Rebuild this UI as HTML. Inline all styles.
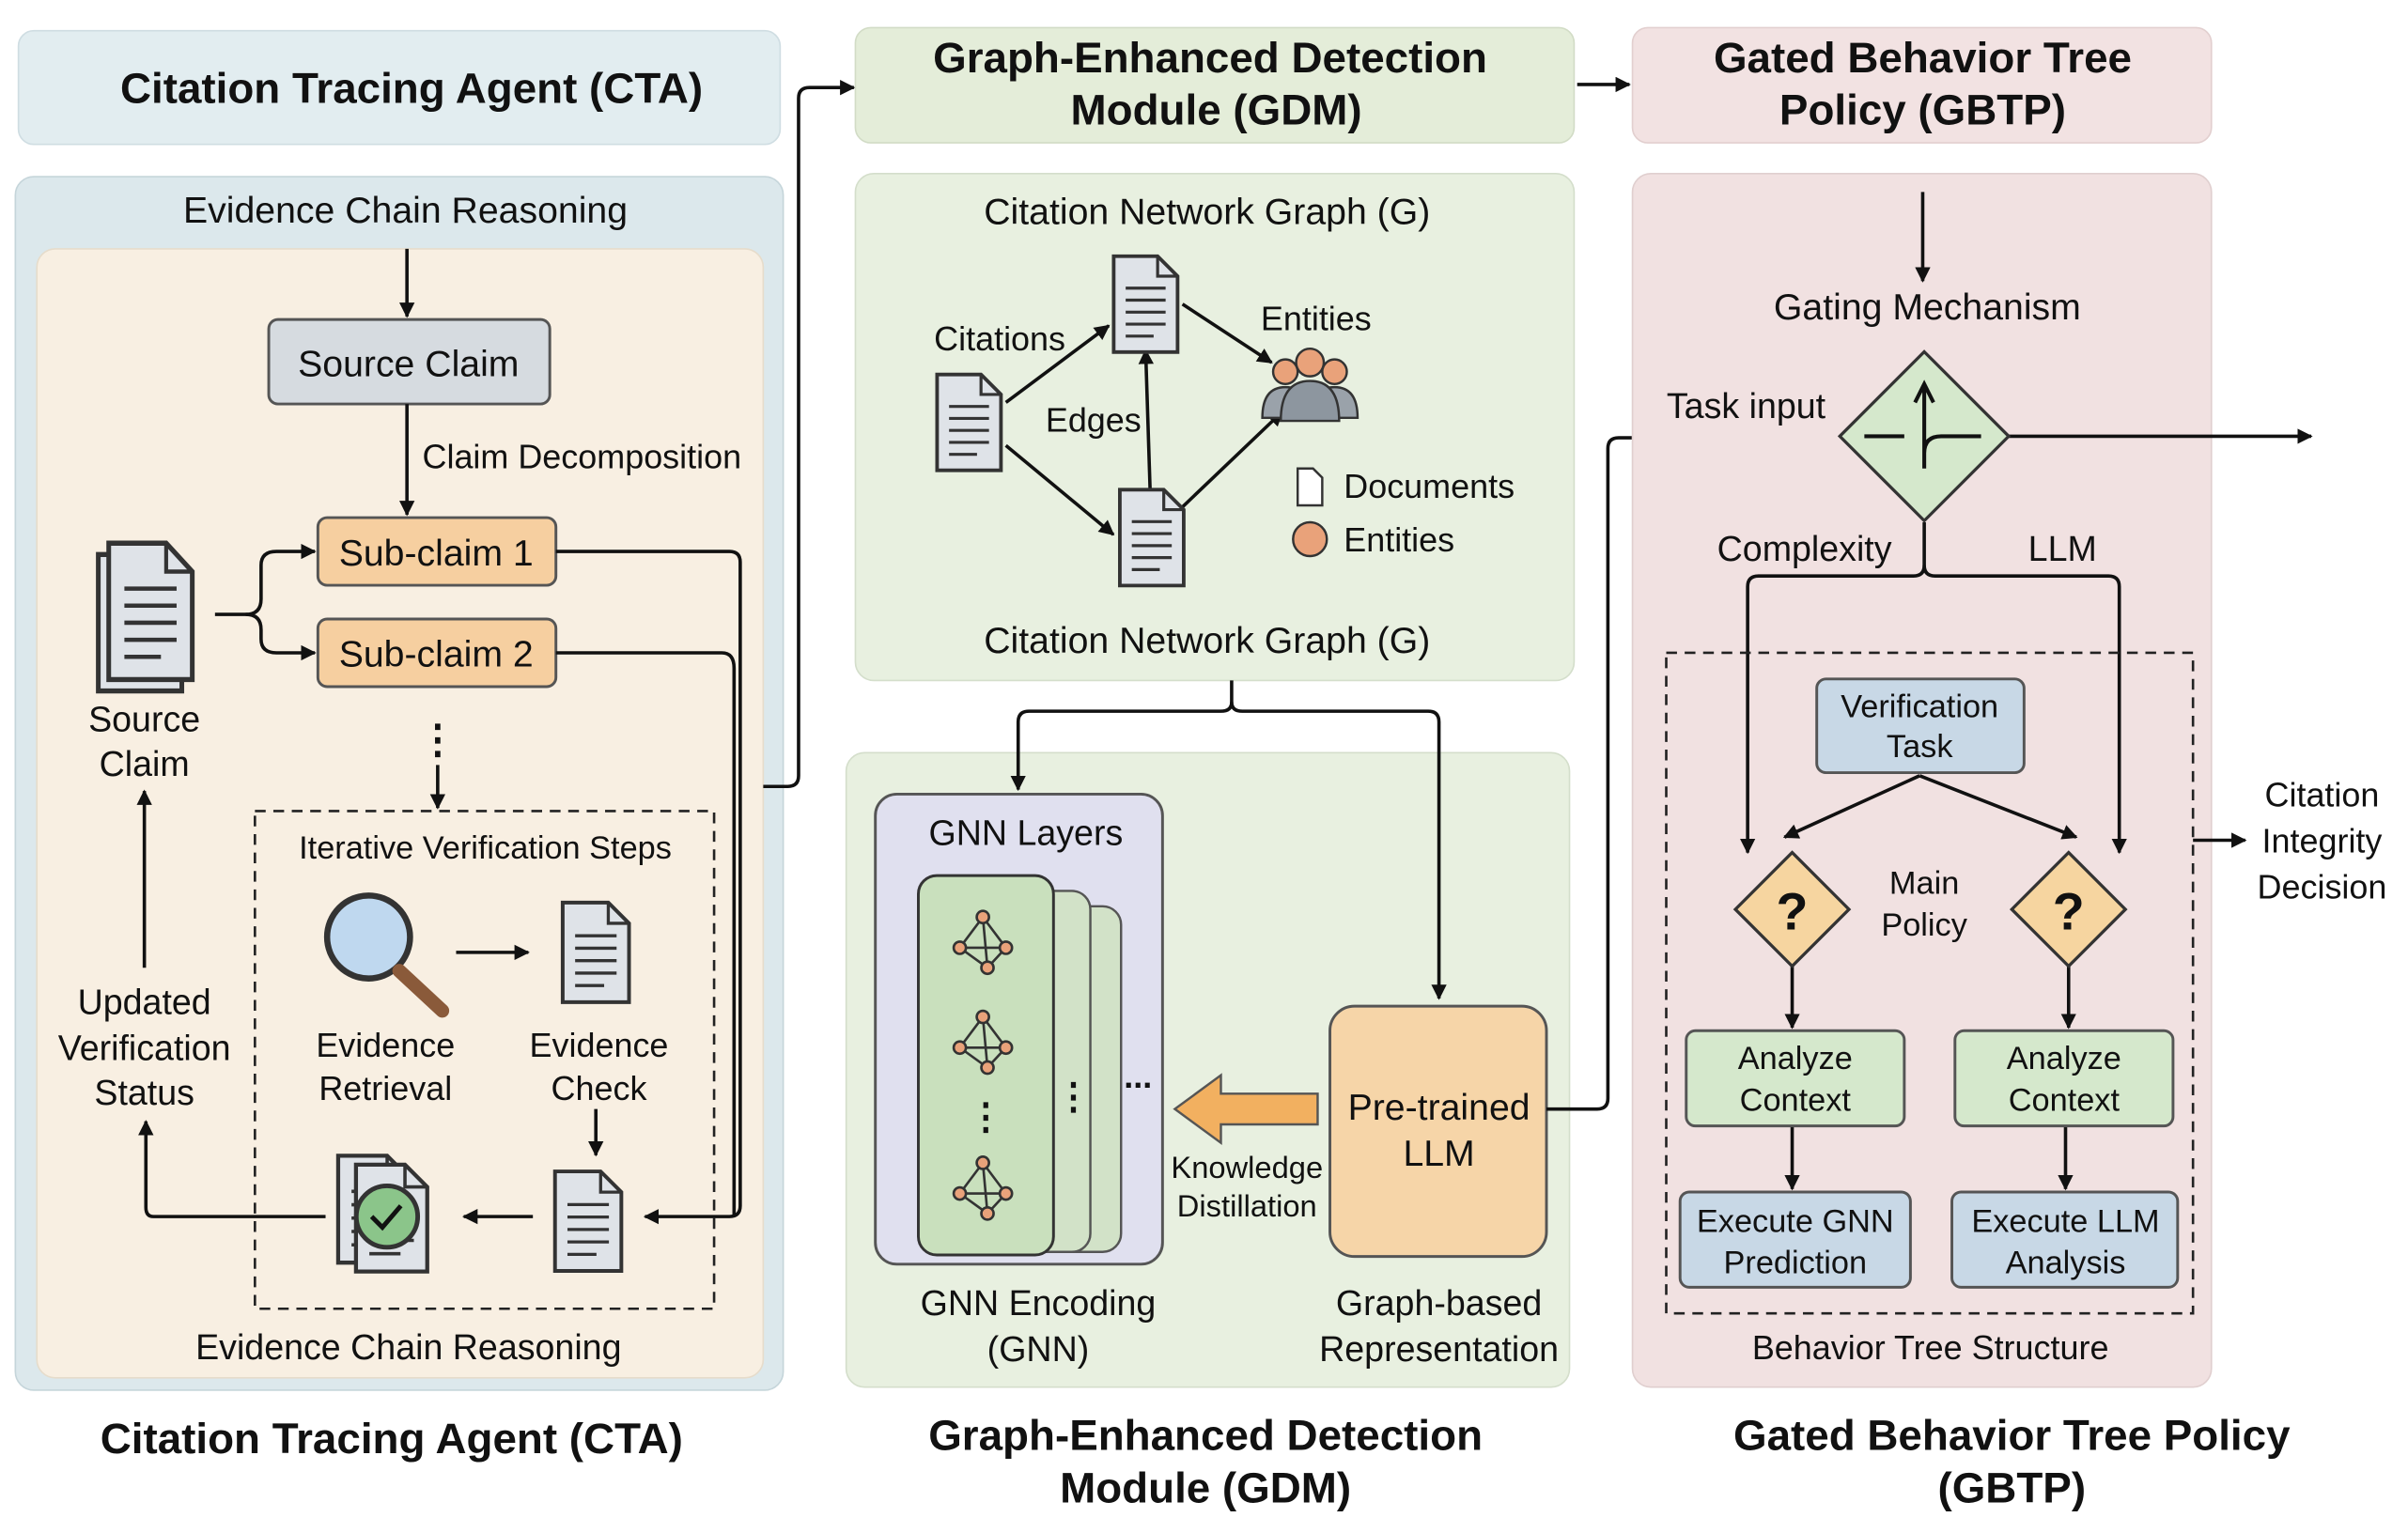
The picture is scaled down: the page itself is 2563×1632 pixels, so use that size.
<!DOCTYPE html>
<html><head><meta charset="utf-8"><style>
html,body{margin:0;padding:0;background:#fff}
svg{display:block}
text{font-family:"Liberation Sans",sans-serif;fill:#111}
.b{font-weight:bold}
</style></head><body>
<svg width="2563" height="1632" viewBox="0 0 1568 998" preserveAspectRatio="none" xmlns="http://www.w3.org/2000/svg">
<defs>
<marker id="a" markerWidth="10" markerHeight="10" refX="9" refY="5" orient="auto" markerUnits="userSpaceOnUse"><path d="M0,0 L10,5 L0,10 Z" fill="#111"/></marker>
<g id="doc"><path d="M-16,-24 h22 l10,10 v38 h-32 Z" fill="#dfe3e8" stroke="#333" stroke-width="1.8"/><path d="M6,-24 v10 h10" fill="none" stroke="#333" stroke-width="1.5"/><path d="M-10,-8 h20 M-10,-2 h20 M-10,4 h20 M-10,10 h20 M-10,16 h14" stroke="#333" stroke-width="1.5"/></g>
</defs>
<!-- LEFT -->
<rect x="12" y="20" width="496" height="74" rx="10" fill="#e2edf0" stroke="#cfdde2"/>
<text x="268" y="67" font-size="28" text-anchor="middle" class="b">Citation Tracing Agent (CTA)</text>
<rect x="10" y="115" width="500" height="790" rx="12" fill="#dce8ec" stroke="#c5d5da"/>
<text x="264" y="145" font-size="24" text-anchor="middle">Evidence Chain Reasoning</text>
<rect x="24" y="162" width="473" height="735" rx="12" fill="#f8efe2" stroke="#e6dccb"/>
<rect x="175" y="208" width="183" height="55" rx="6" fill="#d6dbe0" stroke="#555" stroke-width="1.8"/>
<text x="266" y="245" font-size="24" text-anchor="middle">Source Claim</text>
<text x="275" y="305" font-size="22">Claim Decomposition</text>
<rect x="207" y="337" width="155" height="44" rx="6" fill="#f6cfa0" stroke="#555" stroke-width="1.8"/>
<text x="284" y="368" font-size="24" text-anchor="middle">Sub-claim 1</text>
<rect x="207" y="403" width="155" height="44" rx="6" fill="#f6cfa0" stroke="#555" stroke-width="1.8"/>
<text x="284" y="434" font-size="24" text-anchor="middle">Sub-claim 2</text>
<g transform="translate(98,398) scale(1.7,1.85)"><use href="#doc" x="-4" y="4"/><use href="#doc"/></g>
<text x="94" y="476" font-size="23" text-anchor="middle">Source</text>
<text x="94" y="505" font-size="23" text-anchor="middle">Claim</text>
<text x="285" y="490" font-size="26" text-anchor="middle" class="b">⋮</text>
<rect x="166" y="528" width="299" height="324" fill="none" stroke="#222" stroke-width="1.6" stroke-dasharray="7,5"/>
<text x="316" y="559" font-size="21" text-anchor="middle">Iterative Verification Steps</text>
<circle cx="240" cy="610" r="27" fill="#bfd8ef" stroke="#333" stroke-width="4"/>
<line x1="260" y1="632" x2="288" y2="658" stroke="#8a5a3a" stroke-width="9" stroke-linecap="round"/>
<g transform="translate(388,620) scale(1.35)"><use href="#doc"/></g>
<g transform="translate(383,795) scale(1.35)"><use href="#doc"/></g>
<g transform="translate(255,793) scale(1.45)"><use href="#doc" x="-8" y="-4"/><use href="#doc"/></g>
<circle cx="252" cy="792" r="20" fill="#8bc58a" stroke="#333" stroke-width="3"/>
<path d="M242,792 l7,7 l12,-14" stroke="#111" stroke-width="3" fill="none"/>
<text x="251" y="688" font-size="22" text-anchor="middle">Evidence</text>
<text x="251" y="716" font-size="22" text-anchor="middle">Retrieval</text>
<text x="390" y="688" font-size="22" text-anchor="middle">Evidence</text>
<text x="390" y="716" font-size="22" text-anchor="middle">Check</text>
<text x="94" y="660" font-size="23" text-anchor="middle">Updated</text>
<text x="94" y="690" font-size="23" text-anchor="middle">Verification</text>
<text x="94" y="719" font-size="23" text-anchor="middle">Status</text>
<text x="266" y="885" font-size="23" text-anchor="middle">Evidence Chain Reasoning</text>
<text x="255" y="946" font-size="28" text-anchor="middle" class="b">Citation Tracing Agent (CTA)</text>
<g stroke="#111" stroke-width="2.2" fill="none" marker-end="url(#a)">
<line x1="265" y1="162" x2="265" y2="206"/>
<line x1="265" y1="263" x2="265" y2="335"/>
<path d="M140,400 H160 Q170,400 170,390 V368 Q170,359 180,359 H205"/>
<path d="M160,400 Q170,400 170,410 V416 Q170,425 180,425 H205"/>
<line x1="285" y1="498" x2="285" y2="526"/>
<line x1="297" y1="620" x2="344" y2="620"/>
<line x1="388" y1="722" x2="388" y2="752"/>
<line x1="347" y1="792" x2="302" y2="792"/>
<path d="M212,792 H100 Q95,792 95,786 V730"/>
<line x1="94" y1="630" x2="94" y2="515"/>
<path d="M362,359 H475 Q482,359 482,366 V785 Q482,792 475,792 H420"/>
<path d="M497,512 H513 Q520,512 520,505 V64 Q520,57 527,57 H556"/>
<path d="M1027,55 H1061"/>
</g>
<path d="M362,425 H470 Q478,425 478,435 V792" stroke="#111" stroke-width="2.2" fill="none"/>
<!-- MIDDLE -->
<rect x="557" y="18" width="468" height="75" rx="10" fill="#e4edd9" stroke="#d2dcc6"/>
<text x="788" y="47" font-size="28" text-anchor="middle" class="b">Graph-Enhanced Detection</text>
<text x="792" y="81" font-size="28" text-anchor="middle" class="b">Module (GDM)</text>
<rect x="557" y="113" width="468" height="330" rx="12" fill="#e8f0e0" stroke="#d4decb"/>
<text x="786" y="146" font-size="24" text-anchor="middle">Citation Network Graph (G)</text>
<text x="786" y="425" font-size="24" text-anchor="middle">Citation Network Graph (G)</text>
<g stroke="#111" stroke-width="2.2" fill="none" marker-end="url(#a)">
<line x1="655" y1="262" x2="722" y2="212"/>
<line x1="655" y1="290" x2="725" y2="348"/>
<line x1="749" y1="322" x2="746" y2="228"/>
<line x1="770" y1="198" x2="828" y2="236"/>
<line x1="770" y1="330" x2="835" y2="268"/>
</g>
<g transform="translate(631,275) scale(1.3)"><use href="#doc"/></g>
<g transform="translate(746,198) scale(1.3)"><use href="#doc"/></g>
<g transform="translate(750,350) scale(1.3)"><use href="#doc"/></g>
<g stroke="#333" stroke-width="1.5"><path d="M822,272 q0,-20 15,-20 q15,0 15,20 Z M854,272 q0,-20 15,-20 q15,0 15,20 Z" fill="#9aa2aa"/><circle cx="837" cy="242" r="8" fill="#e9a27a"/><circle cx="869" cy="242" r="8" fill="#e9a27a"/><path d="M834,274 q0,-26 19,-26 q19,0 19,26 Z" fill="#8d969f"/><circle cx="853" cy="236" r="9" fill="#e9a27a"/></g>
<text x="651" y="228" font-size="22" text-anchor="middle">Citations</text>
<text x="712" y="281" font-size="22" text-anchor="middle">Edges</text>
<text x="857" y="215" font-size="22" text-anchor="middle">Entities</text>
<path d="M845,305 h10 l6,6 v18 h-16 Z" fill="#fff" stroke="#333" stroke-width="1.5"/>
<text x="875" y="324" font-size="22">Documents</text>
<circle cx="853" cy="351" r="11" fill="#e9a27a" stroke="#333" stroke-width="1.5"/>
<text x="875" y="359" font-size="22">Entities</text>
<rect x="551" y="490" width="471" height="413" rx="12" fill="#e8f0e0" stroke="#d4decb"/>
<g stroke="#111" stroke-width="2.2" fill="none" marker-end="url(#a)">
<path d="M802,443 V457 Q802,463 795,463 H670 Q663,463 663,470 V514"/>
<path d="M802,457 Q802,463 809,463 H930 Q937,463 937,470 V650"/>
</g>
<rect x="570" y="517" width="187" height="306" rx="14" fill="#e0e0ef" stroke="#555" stroke-width="1.8"/>
<text x="668" y="550" font-size="23" text-anchor="middle">GNN Layers</text>
<rect x="640" y="590" width="90" height="225" rx="12" fill="#d2e2c8" stroke="#555" stroke-width="1.5"/>
<rect x="620" y="580" width="90" height="235" rx="12" fill="#d2e2c8" stroke="#555" stroke-width="1.5"/>
<rect x="598" y="570" width="88" height="247" rx="12" fill="#c9e0bd" stroke="#333" stroke-width="1.8"/>
<g stroke="#333" stroke-width="1.6" fill="#e9a27a">
<g transform="translate(640,612)"><path d="M-15,5 L0,-15 L15,5 L3,18 Z M-15,5 L15,5 M0,-15 L3,18" fill="none"/><circle cx="-15" cy="5" r="4"/><circle cx="0" cy="-15" r="4"/><circle cx="15" cy="5" r="4"/><circle cx="3" cy="18" r="4"/></g>
<g transform="translate(640,677)"><path d="M-15,5 L0,-15 L15,5 L3,18 Z M-15,5 L15,5 M0,-15 L3,18" fill="none"/><circle cx="-15" cy="5" r="4"/><circle cx="0" cy="-15" r="4"/><circle cx="15" cy="5" r="4"/><circle cx="3" cy="18" r="4"/></g>
<g transform="translate(640,772)"><path d="M-15,5 L0,-15 L15,5 L3,18 Z M-15,5 L15,5 M0,-15 L3,18" fill="none"/><circle cx="-15" cy="5" r="4"/><circle cx="0" cy="-15" r="4"/><circle cx="15" cy="5" r="4"/><circle cx="3" cy="18" r="4"/></g>
</g>
<text x="642" y="735" font-size="24" text-anchor="middle" class="b">⋮</text>
<text x="699" y="722" font-size="24" text-anchor="middle" class="b">⋮</text>
<text x="741" y="708" font-size="22" text-anchor="middle" class="b">...</text>
<path d="M858,712 H795 V700 L765,722 L795,744 V732 H858 Z" fill="#f2b060" stroke="#555" stroke-width="1.5"/>
<text x="812" y="767" font-size="20" text-anchor="middle">Knowledge</text>
<text x="812" y="792" font-size="20" text-anchor="middle">Distillation</text>
<rect x="866" y="655" width="141" height="163" rx="16" fill="#f6d5a8" stroke="#555" stroke-width="1.8"/>
<text x="937" y="729" font-size="24" text-anchor="middle">Pre-trained</text>
<text x="937" y="759" font-size="24" text-anchor="middle">LLM</text>
<text x="676" y="856" font-size="23" text-anchor="middle">GNN Encoding</text>
<text x="676" y="886" font-size="23" text-anchor="middle">(GNN)</text>
<text x="937" y="856" font-size="23" text-anchor="middle">Graph-based</text>
<text x="937" y="886" font-size="23" text-anchor="middle">Representation</text>
<text x="785" y="944" font-size="28" text-anchor="middle" class="b">Graph-Enhanced Detection</text>
<text x="785" y="978" font-size="28" text-anchor="middle" class="b">Module (GDM)</text>
<path d="M1007,722 H1040 Q1047,722 1047,715 V292 Q1047,285 1054,285 H1194" stroke="#111" stroke-width="2.2" fill="none" marker-end="url(#a)"/>
<!-- RIGHT -->
<rect x="1063" y="18" width="377" height="75" rx="10" fill="#f2e2e2" stroke="#e2cfcf"/>
<text x="1252" y="47" font-size="28" text-anchor="middle" class="b">Gated Behavior Tree</text>
<text x="1252" y="81" font-size="28" text-anchor="middle" class="b">Policy (GBTP)</text>
<rect x="1063" y="113" width="377" height="790" rx="12" fill="#f1e1e1" stroke="#e0cfcf"/>
<text x="1255" y="208" font-size="24" text-anchor="middle">Gating Mechanism</text>
<text x="1137" y="272" font-size="23" text-anchor="middle">Task input</text>
<text x="1175" y="365" font-size="23" text-anchor="middle">Complexity</text>
<text x="1343" y="365" font-size="23" text-anchor="middle">LLM</text>
<g stroke="#111" stroke-width="2.2" fill="none" marker-end="url(#a)">
<line x1="1252" y1="125" x2="1252" y2="183"/>
<line x1="1308" y1="284" x2="1505" y2="284"/>
<path d="M1253,340 V368 Q1253,375 1246,375 H1145 Q1138,375 1138,382 V555"/>
<path d="M1253,368 Q1253,375 1260,375 H1373 Q1380,375 1380,382 V555"/>
<line x1="1250" y1="505" x2="1162" y2="545"/>
<line x1="1250" y1="505" x2="1352" y2="545"/>
<line x1="1167" y1="629" x2="1167" y2="669"/>
<line x1="1347" y1="629" x2="1347" y2="669"/>
<line x1="1167" y1="733" x2="1167" y2="774"/>
<line x1="1345" y1="733" x2="1345" y2="774"/>
<line x1="1428" y1="547" x2="1462" y2="547"/>
</g>
<path d="M1253,229 L1308,284 L1253,339 L1198,284 Z" fill="#d5e8cc" stroke="#333" stroke-width="2"/>
<path d="M1214,284 H1240 M1253,305 V252 M1247,262 L1253,250 L1259,262 M1253,295 Q1253,284 1264,284 H1290" stroke="#111" stroke-width="2.5" fill="none"/>
<rect x="1085" y="425" width="343" height="430" fill="none" stroke="#222" stroke-width="1.6" stroke-dasharray="7,5"/>
<rect x="1183" y="442" width="135" height="61" rx="6" fill="#c8d8e6" stroke="#555" stroke-width="1.8"/>
<text x="1250" y="467" font-size="21" text-anchor="middle">Verification</text>
<text x="1250" y="493" font-size="21" text-anchor="middle">Task</text>
<path d="M1167,555 L1204,592 L1167,629 L1130,592 Z" fill="#f6d5a0" stroke="#333" stroke-width="2"/>
<path d="M1347,555 L1384,592 L1347,629 L1310,592 Z" fill="#f6d5a0" stroke="#333" stroke-width="2"/>
<text x="1167" y="605" font-size="34" text-anchor="middle" class="b">?</text>
<text x="1347" y="605" font-size="34" text-anchor="middle" class="b">?</text>
<text x="1253" y="582" font-size="21" text-anchor="middle">Main</text>
<text x="1253" y="609" font-size="21" text-anchor="middle">Policy</text>
<rect x="1098" y="671" width="142" height="62" rx="6" fill="#d5e8cc" stroke="#555" stroke-width="1.8"/>
<rect x="1273" y="671" width="142" height="62" rx="6" fill="#d5e8cc" stroke="#555" stroke-width="1.8"/>
<text x="1169" y="696" font-size="21" text-anchor="middle">Analyze</text>
<text x="1169" y="723" font-size="21" text-anchor="middle">Context</text>
<text x="1344" y="696" font-size="21" text-anchor="middle">Analyze</text>
<text x="1344" y="723" font-size="21" text-anchor="middle">Context</text>
<rect x="1094" y="776" width="150" height="62" rx="6" fill="#c8d8e6" stroke="#555" stroke-width="1.8"/>
<rect x="1271" y="776" width="147" height="62" rx="6" fill="#c8d8e6" stroke="#555" stroke-width="1.8"/>
<text x="1169" y="802" font-size="21" text-anchor="middle">Execute GNN</text>
<text x="1169" y="829" font-size="21" text-anchor="middle">Prediction</text>
<text x="1345" y="802" font-size="21" text-anchor="middle">Execute LLM</text>
<text x="1345" y="829" font-size="21" text-anchor="middle">Analysis</text>
<text x="1257" y="885" font-size="22" text-anchor="middle">Behavior Tree Structure</text>
<text x="1512" y="525" font-size="22" text-anchor="middle">Citation</text>
<text x="1512" y="555" font-size="22" text-anchor="middle">Integrity</text>
<text x="1512" y="585" font-size="22" text-anchor="middle">Decision</text>
<text x="1310" y="944" font-size="28" text-anchor="middle" class="b">Gated Behavior Tree Policy</text>
<text x="1310" y="978" font-size="28" text-anchor="middle" class="b">(GBTP)</text>
</svg>
</body></html>
